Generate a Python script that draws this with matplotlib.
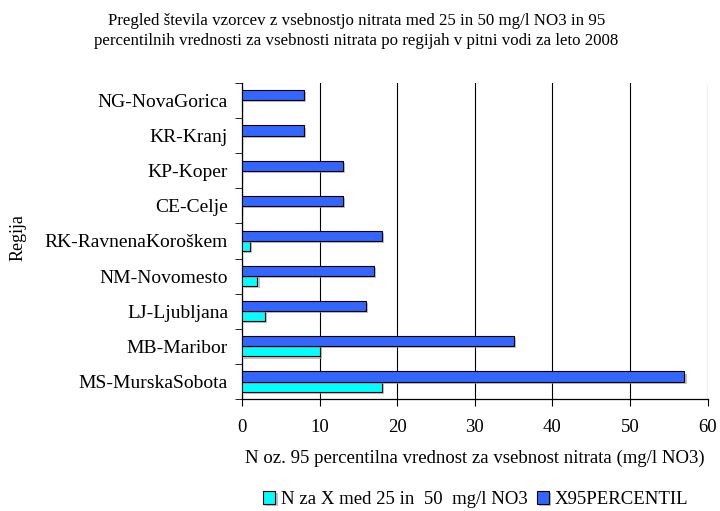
import numpy as np
import matplotlib
matplotlib.use('Agg')
import matplotlib.pyplot as plt
import matplotlib.patheffects as pe

plt.rcParams['font.family'] = ['Liberation Serif', 'DejaVu Serif']

regije = ['MS-MurskaSobota', 'MB-Maribor', 'LJ-Ljubljana', 'NM-Novomesto',
          'RK-RavnenaKoroškem', 'CE-Celje', 'KP-Koper', 'KR-Kranj', 'NG-NovaGorica']
n_vzorcev = [18, 10, 3, 2, 1, 0, 0, 0, 0]
x95 = [57, 35, 16, 17, 18, 13, 13, 8, 8]

fig = plt.figure(figsize=(7.2, 5.11), dpi=100)
ax = fig.add_axes([0.336, 0.219, 0.647, 0.619])

y = np.arange(len(regije))
h = 0.286
shadow = [pe.SimplePatchShadow(offset=(1.5, -1.5), shadow_rgbFace='#999999', alpha=0.6), pe.Normal()]
b1 = ax.barh(y - h / 2, n_vzorcev, height=h, color='#00FFFF', edgecolor='black', linewidth=0.8,
             label='N za X med 25 in  50  mg/l NO3', zorder=3)
b2 = ax.barh(y + h / 2, x95, height=h, color='#3366FF', edgecolor='black', linewidth=0.8,
             label='X95PERCENTIL', zorder=3)
for b in list(b1) + list(b2):
    b.set_path_effects(shadow)

ax.set_xlim(0, 60)
ax.set_ylim(-0.5, len(regije) - 0.5)
ax.set_xticks(range(0, 61, 10))
ax.set_yticks(y)
ax.set_yticklabels(regije, fontsize=14)
ax.set_yticks(np.arange(-0.5, len(regije), 1), minor=True)
ax.tick_params(axis='y', which='major', length=0, pad=10)
ax.tick_params(axis='y', which='minor', length=5, direction='out')
ax.tick_params(axis='x', length=5, direction='out', labelsize=13.5, pad=9)
ax.xaxis.grid(True, color='black', linewidth=0.8, zorder=0)
ax.set_axisbelow(True)
for s in ['top', 'right']:
    ax.spines[s].set_visible(False)
ax.spines['left'].set_linewidth(0.9)
ax.spines['bottom'].set_linewidth(0.9)

fig.text(0.659, 0.104, 'N oz. 95 percentilna vrednost za vsebnost nitrata (mg/l NO3)',
         ha='center', va='center', fontsize=13.5)
fig.text(0.025, 0.535, 'Regija', rotation=90, ha='center', va='center', fontsize=13)

fig.text(0.495, 0.939, 'Pregled števila vzorcev z vsebnostjo nitrata med 25 in 50 mg/l NO3 in 95\n'
         'percentilnih vrednosti za vsebnosti nitrata po regijah v pitni vodi za leto 2008',
         ha='center', va='center', fontsize=12.2, linespacing=1.3)

fig.legend(handles=[b1, b2], loc='center', bbox_to_anchor=(0.661, 0.022), ncol=2, frameon=False,
           fontsize=13.5, handlelength=0.65, handleheight=0.65, handletextpad=0.3, columnspacing=0.5,
           borderpad=0.1)

fig.savefig('out.png', dpi=100)
